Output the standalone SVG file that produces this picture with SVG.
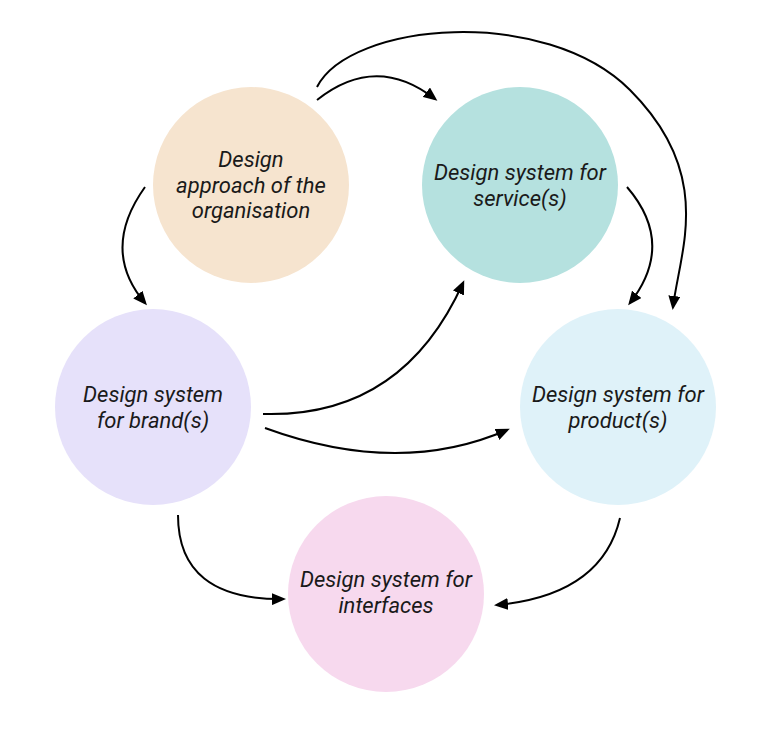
<svg xmlns="http://www.w3.org/2000/svg" width="770" height="732" viewBox="0 0 770 732">
<style>
  .lbl { font-family: Roboto, "Liberation Sans", sans-serif; font-style: italic; font-size: 22px; fill: #1a1a1a; text-anchor: middle; }
  .conn path { fill: none; stroke: #000; stroke-width: 2; marker-end: url(#arrow); }
</style>
<defs>
  <marker id="arrow" markerUnits="userSpaceOnUse" markerWidth="14" markerHeight="12" viewBox="0 0 14 12" refX="11" refY="6" orient="auto">
    <path d="M0,0 L14,6 L0,12 z" fill="#000"/>
  </marker>
</defs>
<rect width="770" height="732" fill="#fff"/>
<g id="node-approach">
  <circle cx="251" cy="185" r="98" fill="#F6E4CF"/>
  <text class="lbl" x="251" y="167">Design</text>
  <text class="lbl" x="251" y="193">approach of the</text>
  <text class="lbl" x="251" y="218">organisation</text>
</g>
<g id="node-service">
  <circle cx="520" cy="185" r="98" fill="#B5E1DF"/>
  <text class="lbl" x="520" y="180">Design system for</text>
  <text class="lbl" x="520" y="206">service(s)</text>
</g>
<g id="node-brand">
  <circle cx="153" cy="407" r="98" fill="#E6E1FA"/>
  <text class="lbl" x="153" y="402">Design system</text>
  <text class="lbl" x="153" y="428">for brand(s)</text>
</g>
<g id="node-product">
  <circle cx="618" cy="407" r="98" fill="#DFF2F9"/>
  <text class="lbl" x="618" y="402">Design system for</text>
  <text class="lbl" x="618" y="428">product(s)</text>
</g>
<g id="node-interfaces">
  <circle cx="386" cy="594" r="98" fill="#F7D9EE"/>
  <text class="lbl" x="386" y="587">Design system for</text>
  <text class="lbl" x="386" y="613">interfaces</text>
</g>
<g id="connectors" class="conn">
  <path d="M317,100 Q376,53 435,99"/>
  <path d="M317,87 C350,22 545,5 630,90 S680,250 673,307"/>
  <path d="M627,187 Q676,244 630,303"/>
  <path d="M145,187 Q100,250 145,303"/>
  <path d="M263,414 Q402,418 463,283"/>
  <path d="M265,428 Q399,477 507,430"/>
  <path d="M178,515 Q178,600 283,599"/>
  <path d="M620,518 Q602,595 497,605"/>
</g>
</svg>
